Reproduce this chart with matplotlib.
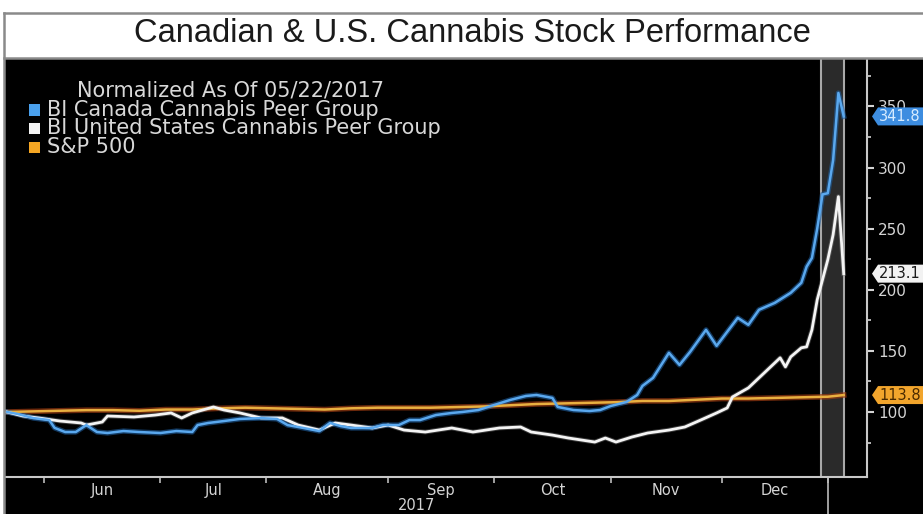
import numpy as np
import matplotlib
matplotlib.use("Agg")
import matplotlib.pyplot as plt
from matplotlib.patches import Polygon, Rectangle
from matplotlib.lines import Line2D

# ---------------- data ----------------
title = "Canadian & U.S. Cannabis Stock Performance"
legend_title = "Normalized As Of 05/22/2017"
series_names = ["BI Canada Cannabis Peer Group",
                "BI United States Cannabis Peer Group",
                "S&P 500"]

start_date = "2017-05-22"
holidays = ["2017-05-29", "2017-07-04", "2017-09-04",
            "2017-11-23", "2017-12-25", "2018-01-01"]
month_starts = ["2017-06-01", "2017-07-03", "2017-08-01", "2017-09-01",
                "2017-10-02", "2017-11-01", "2017-12-01", "2018-01-02"]
month_labels = ["Jun", "Jul", "Aug", "Sep", "Oct", "Nov", "Dec"]
year_label = "2017"

# trading-day number since 05/22/2017 and normalized value
can_day = [0, 2, 5, 8, 9, 11, 13, 15, 17, 19, 22, 25, 29, 32, 35, 36, 38, 41,
           44, 48, 51, 53, 56, 59, 61, 63, 65, 69, 71, 74, 76, 78, 81, 84, 86,
           89, 92, 95, 98, 100, 102, 103, 104, 107, 110, 112, 114, 117, 119,
           120, 122, 125, 127, 129, 132, 134, 136, 138, 140, 142, 145, 148,
           150, 151, 152, 153, 154, 155, 156, 157, 158]
can_val = [100, 98.4, 95, 93.4, 87, 83.6, 83.6, 89.3, 83.6, 82.8, 84.4, 83.6,
           82.8, 84.4, 83.6, 89.3, 91, 92.6, 94.3, 95, 94.3, 89.3, 86.9, 84.4,
           91, 88.5, 86.9, 86.9, 89.3, 89.3, 93.4, 93.4, 97.5, 99.2, 100,
           101.6, 105.7, 109.8, 113.1, 113.9, 112.3, 111.5, 104.1, 101.6,
           100.8, 101.6, 104.9, 108.2, 113.9, 121.3, 127.9, 148.4, 138.5,
           149.2, 167.2, 154.1, 165.6, 177, 171.3, 183.6, 189.3, 197.5, 205.7,
           218.9, 226, 250, 278, 279, 306, 361, 341.83]

us_day = [0, 3, 6, 10, 14, 15, 18, 19, 24, 28, 31, 33, 35, 39, 41, 44, 48, 52,
          55, 59, 62, 65, 69, 72, 75, 79, 84, 88, 93, 97, 99, 103, 106, 111,
          113, 115, 118, 121, 125, 128, 131, 134, 136, 137, 140, 142, 146,
          147, 148, 150, 151, 152, 153, 154, 155, 156, 157, 158]
us_val = [100, 96.7, 95.1, 92.6, 91, 89.3, 91.8, 96.7, 95.9, 97.5, 99.2, 95.1,
          99.2, 104.1, 101.6, 99.2, 95.1, 95.1, 89.3, 85.2, 91, 89.3, 86.9,
          89.3, 85.2, 83.6, 86.9, 83.6, 86.9, 87.7, 83.6, 81.1, 78.7, 75.4,
          78.7, 75.4, 79.5, 82.8, 85.2, 87.7, 93.4, 99.2, 103.3, 112.3, 119.7,
          127.9, 144.3, 136.9, 145.1, 152.5, 153.3, 167.2, 191.8, 208.2,
          224.6, 245, 276.2, 213.18]

spx_day = [0, 5, 10, 15, 20, 25, 30, 35, 40, 45, 50, 55, 60, 65, 70, 75, 80,
           85, 90, 95, 100, 105, 110, 115, 120, 125, 130, 135, 140, 145, 150,
           155, 158]
spx_val = [100, 100.5, 101, 101.5, 101.5, 101, 102, 102, 103, 103.5, 103,
           102.5, 102, 103, 103.5, 103.5, 103.5, 104, 104.5, 105.5, 106.5,
           107, 107.5, 108, 109, 109, 110, 111, 111, 111.5, 112, 112.5, 113.84]

highlight_days = (153.7, 158.1)

# ---------------- figure ----------------
W, H = 923, 514
fig = plt.figure(figsize=(W / 100, H / 100), dpi=100, facecolor="black")


def fx(x):
    return x / W


def fy(y):
    return 1 - y / H


ax = fig.add_axes([fx(5), fy(477), fx(867) - fx(5), fy(59) - fy(477)])
ax.set_facecolor("black")
ax.set_xlim(-0.36, 162.4)
ax.set_ylim(46.8, 388.8)

# highlight band
ax.axvspan(highlight_days[0], highlight_days[1], color="#2a2a2a", zorder=1, lw=0)
for d in highlight_days:
    ax.axvline(d, color="#a8a8a8", lw=1.5, zorder=2)

# lines with glow
ax.plot(spx_day, spx_val, color="#9a3a10", lw=4, alpha=0.7, zorder=3)
ax.plot(spx_day, spx_val, color="#e9b040", lw=1.8, zorder=4)
ax.plot(us_day, us_val, color="#8a8a8a", lw=3.4, alpha=0.4, zorder=3)
ax.plot(us_day, us_val, color="#f4f4f4", lw=2.0, zorder=5)
ax.plot(can_day, can_val, color="#1f5e9e", lw=3.8, alpha=0.6, zorder=3)
ax.plot(can_day, can_val, color="#5aa8ee", lw=1.8, zorder=6)

# spines
for s in ["left", "top"]:
    ax.spines[s].set_visible(False)
ax.spines["right"].set_color("#c8c8c8")
ax.spines["right"].set_linewidth(1.5)
ax.spines["bottom"].set_color("#c8c8c8")
ax.spines["bottom"].set_linewidth(1.5)

# y axis on right
ax.yaxis.tick_right()
ax.set_yticks([100, 150, 200, 250, 300, 350])
ax.set_yticks([75, 125, 175, 225, 275, 325, 375], minor=True)
ax.tick_params(axis="y", which="major", colors="#d4d4d4", length=5, width=1.5,
               pad=3, labelsize=11)
ax.tick_params(axis="y", which="minor", colors="#d4d4d4", length=3, width=1.2)

# x axis: month boundaries, labels centered within months
month_pos = np.busday_count(start_date, month_starts, holidays=holidays)
ax.set_xticks(month_pos)
ax.set_xticklabels([])
label_pos = (month_pos[:-1] + month_pos[1:]) / 2
ax.set_xticks(label_pos, minor=True)
ax.set_xticklabels(month_labels, minor=True)
ax.tick_params(axis="x", which="major", colors="#bbbbbb", length=4, width=1.2,
               direction="out")
ax.tick_params(axis="x", which="minor", length=0, pad=4, labelsize=10.5,
               labelcolor="#d4d4d4")
# year boundary tick
ax.plot([month_pos[-1], month_pos[-1]], [0, -0.1], color="#bbbbbb", lw=1.2,
        transform=ax.get_xaxis_transform(), clip_on=False)
ax.text((ax.get_xlim()[0] + month_pos[-1]) / 2, -0.068, year_label,
        transform=ax.get_xaxis_transform(), ha="center", va="center",
        color="#d4d4d4", fontsize=10.5)

# ---------------- title region ----------------
fig.add_artist(Rectangle((0, fy(58)), 1, 1 - fy(58), transform=fig.transFigure,
                         facecolor="white", edgecolor="none", zorder=0))
fig.add_artist(Rectangle((0, 0), fx(5), 1, transform=fig.transFigure,
                         facecolor="white", edgecolor="none", zorder=0))
for y in (13, 58):
    fig.add_artist(Line2D([fx(4), 1], [fy(y), fy(y)], transform=fig.transFigure,
                          color="#8a8a8a", lw=1.8))
fig.add_artist(Line2D([fx(4), fx(4)], [0, fy(13)], transform=fig.transFigure,
                      color="#8a8a8a", lw=1.8))
fig.text(fx(472), fy(34), title, ha="center", va="center", fontsize=23.5,
         family="Liberation Sans", color="#1a1a1a")

# ---------------- legend ----------------
leg_color = "#d8d8d8"
fig.text(fx(77), fy(90), legend_title, ha="left", va="center", fontsize=15,
         color=leg_color)
sw_colors = ["#4aa0ec", "#f2f2f2", "#f5a623"]
for i, (name, c) in enumerate(zip(series_names, sw_colors)):
    yc = 110 + i * 18.5
    fig.add_artist(Rectangle((fx(29), fy(yc + 5.5)), fx(11), 11 / H,
                             transform=fig.transFigure, facecolor=c,
                             edgecolor="none"))
    fig.text(fx(47), fy(yc), name, ha="left", va="center", fontsize=15,
             color=leg_color)

# ---------------- last value tags ----------------
tags = [(can_val[-1], "#3d8de0", "#d8ecff"),
        (us_val[-1], "#f2f2f2", "#1a1a1a"),
        (spx_val[-1], "#f2a52c", "#4a2a00")]
for v, bg, tc in tags:
    ypix = H - ax.transData.transform((0, v))[1]
    hh = 9
    verts = [(872, ypix), (878, ypix - hh), (W + 5, ypix - hh),
             (W + 5, ypix + hh), (878, ypix + hh)]
    fig.add_artist(Polygon([(fx(x), fy(y)) for x, y in verts], closed=True,
                           transform=fig.transFigure, facecolor=bg,
                           edgecolor="none", zorder=10))
    # the reference shows the values cut after one decimal
    fig.text(fx(879), fy(ypix), f"{v:.2f}"[:-1], ha="left", va="center",
             fontsize=10.5, color=tc, zorder=11)

fig.savefig("out.png", dpi=100, facecolor="black")
